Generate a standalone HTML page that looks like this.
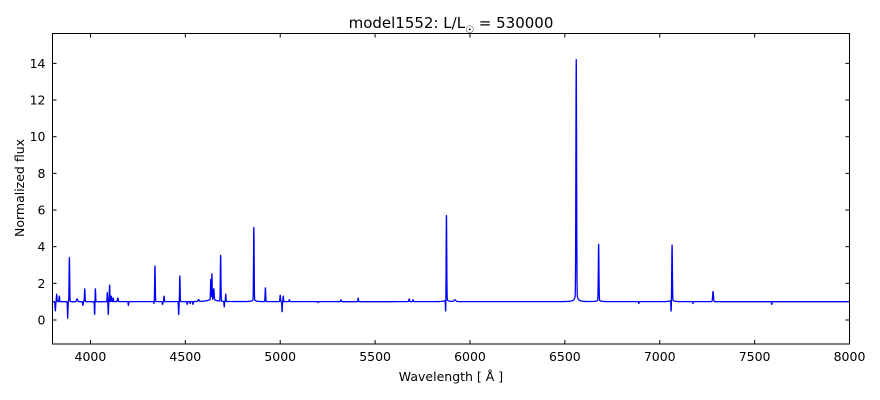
<!DOCTYPE html>
<html><head><meta charset="utf-8"><style>
body{margin:0;background:#fff;}
svg{display:block;font-family:"DejaVu Sans","Liberation Sans",sans-serif;}
</style></head><body>
<svg id="s" width="880" height="400" viewBox="0 0 880 400" xmlns="http://www.w3.org/2000/svg">
<rect width="880" height="400" fill="#fff"/>
<text x="451" y="28" font-size="15" text-anchor="middle">model1552: L/L<tspan font-size="10" dy="5">☉</tspan><tspan dy="-5"> = 530000</tspan></text>
<text transform="translate(24,188) rotate(-90)" font-size="12.5" text-anchor="middle">Normalized flux</text>
<text x="451" y="381" font-size="12.5" text-anchor="middle">Wavelength [ Å ]</text>
<g id="ticks" stroke="#000" stroke-width="1"></g>
<g id="labels" font-size="12.5"></g>
<path id="spec" fill="none" stroke="#0000ff" stroke-width="1.3" stroke-linejoin="round"/>
<rect x="52.5" y="33.5" width="797" height="310.5" fill="none" stroke="#000" stroke-width="1"/>
</svg>
<script>
var X0=52.5,X1=849.5,Y0=33.5,Y1=344;
function px(l){return X0+(l-3800)/4200*(X1-X0);}
function py(f){return 320-f*18.33;}
var NS="http://www.w3.org/2000/svg";
var tg=document.getElementById('ticks'),lg=document.getElementById('labels');
function el(p,t,a,txt){var e=document.createElementNS(NS,t);for(var k in a)e.setAttribute(k,a[k]);if(txt!=null)e.textContent=txt;p.appendChild(e);}
for(var l=4000;l<=8000;l+=500){var x=px(l);
 el(tg,'line',{x1:x,x2:x,y1:Y1,y2:Y1-4});el(tg,'line',{x1:x,x2:x,y1:Y0,y2:Y0+4});
 el(lg,'text',{x:x,y:Y1+17,'text-anchor':'middle'},l);}
for(var f=0;f<=14;f+=2){var y=py(f);
 el(tg,'line',{x1:X0,x2:X0+4,y1:y,y2:y});el(tg,'line',{x1:X1,x2:X1-4,y1:y,y2:y});
 el(lg,'text',{x:X0-7,y:y+4.5,'text-anchor':'end'},f);}
var L=[[3815,-0.5,1.5],[3822,0.4,1.5],[3836,0.3,1.5],[3880,-0.9,1.2],[3889,2.4,1.5],[3930,0.15,3],[3960,-0.2,1.5],[3970,0.7,1.5],[4022,-0.7,1.2],[4026,0.7,1.3],[4089,0.5,1.3],[4094,-0.7,1.2],[4101,0.9,1.3],[4110,0.3,1.5],[4120,0.2,1.5],[4144,0.2,2],[4200,-0.2,1.2],[4335,-0.1,1.2],[4340,1.95,1.5],[4380,-0.15,1.5],[4388,0.3,1.5],[4465,-0.7,1.2],[4471,1.4,1.3],[4510,-0.15,1.5],[4525,-0.1,1.5],[4540,-0.15,1.5],[4570,0.1,3],[4634,1.1,1.3],[4640,1.4,1.3],[4650,0.6,2],[4686,2.5,1.5],[4705,-0.3,1.2],[4713,0.4,1.3],[4861,3.95,1.5],[4922,0.75,1.5],[5000,0.35,1.5],[5010,-0.55,1.2],[5016,0.3,1.3],[5048,0.1,2],[5200,-0.05,1.5],[5320,0.1,2],[5411,0.2,1.3],[5680,0.15,2],[5700,0.1,2],[5872,-0.7,1.2],[5876,4.6,1.5],[5920,0.1,5],[6560,12.8,1.8],[6678,3.05,1.6],[6890,-0.1,1.3],[7060,-0.6,1.2],[7065,3.0,1.6],[7175,-0.1,1.3],[7281,0.55,2.2],[7590,-0.15,1.3]];
function flux(l){var f=1;
 for(var i=0;i<L.length;i++){var d=(l-L[i][0])/L[i][2];if(Math.abs(d)<6)f+=L[i][1]*Math.exp(-0.5*d*d);}
 f+=0.4/(1+Math.pow((l-6560)/8,2));
 f+=0.12/(1+Math.pow((l-4640)/25,2));
 f+=0.1/(1+Math.pow((l-4861)/10,2));
 f+=0.1/(1+Math.pow((l-5876)/10,2));
 f+=0.08/(1+Math.pow((l-7065)/10,2));
 f+=0.08/(1+Math.pow((l-6678)/10,2));
 return f;}
var d='';for(var l=3800;l<=8000;l+=0.5){d+=(l==3800?'M':'L')+px(l).toFixed(2)+' '+py(flux(l)).toFixed(2);}
document.getElementById('spec').setAttribute('d',d);
</script>
</body></html>
